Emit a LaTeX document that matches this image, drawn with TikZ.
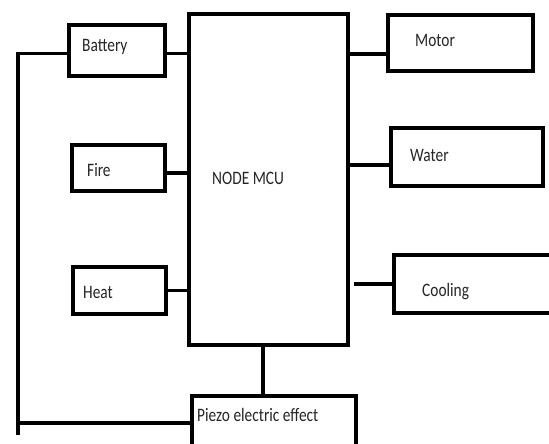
\documentclass[tikz,border=0pt]{standalone}
\usepackage{fontspec}
\setmainfont{Carlito}[FakeStretch=0.81]
\usepackage{xcolor}
\usepackage{tikz}
\usetikzlibrary{positioning}
\definecolor{InkBlack}{HTML}{000000}
\definecolor{TextGray}{HTML}{262626}
\tikzset{
  block/.style={draw=InkBlack, line width=3.7pt, minimum width=#1, inner sep=0pt},
  tag/.style={anchor=west, inner sep=0pt, text=TextGray, font=\fontsize{19}{21}\selectfont},
  wire/.style={draw=InkBlack, line width=3.3pt}
}

\begin{document}
\begin{tikzpicture}[x=1pt, y=-1pt]
  \clip (0,0) rectangle (549,444);
  \fill[white] (0,0) rectangle (549,444);
  % blocks
  \node[block=159pt, minimum height=331pt] (mcu) at (268.5,179.5) {};
  \node[block=96pt, minimum height=51pt] (battery) at (117,50.5) {};
  \node[block=93pt, minimum height=46pt] (fire) at (118.5,168) {};
  \node[block=93pt, minimum height=47pt] (heat) at (119.5,290.5) {};
  \node[block=145pt, minimum height=56pt] (motor) at (460.5,43) {};
  \node[block=152pt, minimum height=58pt] (water) at (467,157) {};
  \node[block=166pt, minimum height=58pt] (cooling) at (477,284) {};
  \node[block=164pt, minimum height=54pt] (piezo) at (274,423) {};
  % texts
  \node[tag] (mcuText) at (212,178) {NODE MCU};
  \node[tag] (batteryText) at (82,47) {Battery};
  \node[tag] (fireText) at (87,170) {Fire};
  \node[tag] (heatText) at (83,292) {Heat};
  \node[tag] (motorText) at (415,40) {Motor};
  \node[tag] (waterText) at (410,155) {Water};
  \node[tag] (coolingText) at (422,292) {Cooling};
  \node[tag] (piezoText) at (197,415) {Piezo electric effect};
  % rail and stem
  \coordinate (railTop) at (18,53.5);
  \coordinate (railBot) at (18,435);
  \coordinate (stem) at (263,0);
  % connectors
  \draw[wire] ([yshift=-3pt]battery.west) -- (railTop) -- (railBot);
  \draw[wire] (piezo.west) -- (piezo.west -| railTop);
  \draw[wire] ([yshift=-3pt]battery.east) -- ([yshift=-3pt]battery.east -| mcu.west);
  \draw[wire] ([yshift=-5pt]fire.east) -- ([yshift=-5pt]fire.east -| mcu.west);
  \draw[wire] (heat.east) -- (heat.east -| mcu.west);
  \draw[wire] ([yshift=-11pt]motor.west) -- ([yshift=-11pt]motor.west -| mcu.east);
  \draw[wire] ([yshift=-8pt]water.west) -- ([yshift=-8pt]water.west -| mcu.east);
  \draw[wire] (cooling.west) -- ([xshift=4pt]cooling.west -| mcu.east);
  \draw[wire] (mcu.south -| stem) -- (piezo.north -| stem);
\end{tikzpicture}
\end{document}
